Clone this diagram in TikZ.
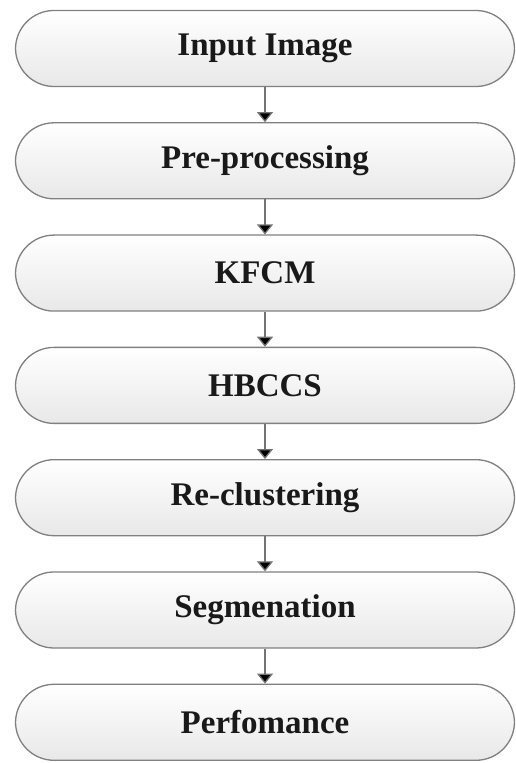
\documentclass[tikz,border=0pt]{standalone}
\usepackage{fontspec}
\setmainfont{Liberation Serif}
\usetikzlibrary{arrows.meta}

\begin{document}
\begin{tikzpicture}[->,>={Triangle[width=16pt,length=10pt]},auto,
  node distance=112.3pt,
  step node/.style={rectangle,rounded corners=38.5pt,draw=black!50,
  line width=1.3pt,top color=white,bottom color=black!9,
  font=\fontsize{33}{40}\selectfont\bfseries,text=black!90,
  minimum width=499pt,minimum height=76pt,inner sep=0pt}]
  \useasboundingbox (0,0) rectangle (516pt,763pt);
  \node[step node] (img) at (265pt,714.5pt) {Input Image};
  \node[step node] (pre)[below of=img] {Pre-processing};
  \node[step node] (kfcm)[below of=pre] {KFCM};
  \node[step node] (hbccs)[below of=kfcm] {HBCCS};
  \node[step node] (recl)[below of=hbccs] {Re-clustering};
  \node[step node] (seg)[below of=recl] {Segmenation};
  \node[step node] (perf)[below of=seg] {Perfomance};

  \path[draw=black!55,line width=1.3pt]
  	% flechas entre pasos
  	(img) edge (pre)
  	(pre) edge (kfcm)
  	(kfcm) edge (hbccs)
  	(hbccs) edge (recl)
  	(recl) edge (seg)
  	(seg) edge (perf);
\end{tikzpicture}
\end{document}
